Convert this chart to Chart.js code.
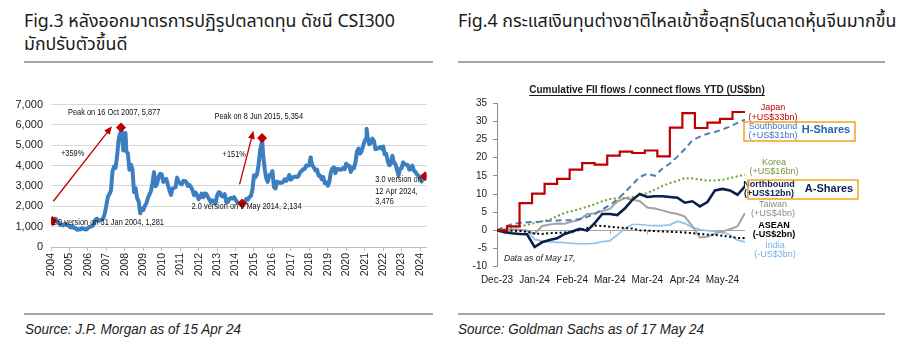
<!DOCTYPE html>
<html><head><meta charset="utf-8">
<script src="https://cdn.jsdelivr.net/npm/chart.js"></script>
<style>
html,body{margin:0;padding:0;background:#fff;}
body{width:900px;height:356px;position:relative;overflow:hidden;font-family:'Liberation Sans',Arial,sans-serif;}
.ttl{position:absolute;font-family:'Noto Sans Thai','Noto Sans','Liberation Sans',sans-serif;font-size:17.8px;font-weight:normal;line-height:23px;color:#1a1a1a;white-space:nowrap;}
.rule{position:absolute;height:2px;background:#a6a6a6;}
.src{position:absolute;top:320px;font-style:italic;font-size:15px;color:#222;white-space:nowrap;transform:scaleX(0.9);transform-origin:0 0;}
canvas{position:absolute;}
#c1{left:0;top:90px;}
#c2{left:450px;top:80px;}
</style></head><body>
<div class="ttl" style="left:24px;top:10px">Fig.3 หลังออกมาตรการปฏิรูปตลาดทุน ดัชนี CSI300<br>มักปรับตัวขึ้นดี</div>
<div class="ttl" style="left:458px;top:10px">Fig.4 กระแสเงินทุนต่างชาติไหลเข้าซื้อสุทธิในตลาดหุ้นจีนมากขึ้น</div>
<div class="rule" style="left:24px;top:61px;width:409px"></div>
<div class="rule" style="left:458px;top:61px;width:427px"></div>
<div class="rule" style="left:24px;top:313px;width:409px"></div>
<div class="rule" style="left:458px;top:313px;width:427px"></div>
<div class="src" style="left:25px">Source: J.P. Morgan as of 15 Apr 24</div>
<div class="src" style="left:458px">Source: Goldman Sachs as of 17 May 24</div>
<canvas id="c1" width="440" height="200"></canvas>
<canvas id="c2" width="450" height="210"></canvas>
<script>
// ---------------- Fig.3 : CSI300 ----------------
const csiStartYear = 2004;
// month-end closes, Jan 2004 .. Mar 2024
const csiMonthEnd = [
 1281,1370,1390,1230,1210,1090,1100,1060,1140,1080,1070,1000,
 960,1040,930,920,850,870,860,920,900,870,860,923,
 990,1010,1030,1160,1350,1390,1290,1300,1340,1420,1650,2041,
 2470,2600,2780,3720,3950,3890,4470,5300,5600,5690,4750,5338,
 4700,4600,3800,4050,3800,2700,2900,2400,2250,1660,1880,1820,
 2010,2140,2400,2580,2750,3140,3680,2980,3120,3450,3600,3575,
 3200,3280,3350,3060,2800,2560,2870,2900,2935,3410,3200,3130,
 3080,3240,3250,3200,3000,3050,2950,2800,2550,2680,2550,2350,
 2460,2630,2450,2630,2610,2460,2330,2200,2290,2250,2140,2520,
 2690,2670,2500,2480,2600,2200,2210,2370,2410,2380,2450,2330,
 2200,2180,2150,2160,2160,2170,2360,2330,2450,2510,2810,3530,
 3430,3580,4050,4750,5100,4470,3820,3370,3200,3530,3570,3730,
 2950,2880,3220,3160,3170,3150,3200,3330,3250,3340,3540,3310,
 3390,3450,3460,3440,3490,3670,3740,3820,3840,4010,4000,4030,
 4280,4020,3900,3760,3800,3510,3520,3330,3440,3150,3170,3010,
 3200,3670,3870,3910,3630,3830,3840,3800,3810,3890,3830,4100,
 4000,4000,3690,3910,3870,4160,4700,4840,4590,4700,4980,5210,
 5350,5340,5050,5120,5330,5220,4810,4830,4870,4910,4830,4940,
 4560,4580,4220,4020,4090,4490,4170,4080,3800,3510,3850,3870,
 4160,4060,4050,4030,3800,3840,4000,3760,3690,3570,3500,3430,
 3220,3510,3540
];
// intra-month extremes (decimal year / value)
const csiExtraDates = [2007.793, 2008.037, 2014.357, 2015.439, 2018.065, 2021.107, 2024.283];
const csiExtraValues = [5877, 5600, 2134, 5354, 4400, 5807, 3476];
// highlighted points
const markerDates = [2004.083, 2007.793, 2014.357, 2015.439, 2024.283];
const markerValues = [1281, 5877, 2134, 5354, 3476];
const yearTicks = [2004,2005,2006,2007,2008,2009,2010,2011,2012,2013,2014,2015,2016,2017,2018,2019,2020,2021,2022,2023,2024];
const csiYTicks = [0,1000,2000,3000,4000,5000,6000,7000];

const csiNotes = [
 ['Peak on 16 Oct 2007, 5,877', 2004.92, 6600],
 ['+359%', 2004.54, 4600],
 ['1.0 version on 31 Jan 2004, 1,281', 2004.05, 1200],
 ['Peak on 8 Jun 2015, 5,354', 2012.86, 6420],
 ['+151%', 2013.3, 4550],
 ['2.0 version on 9 May 2014, 2,134', 2011.62, 2010],
 ['3.0 version on', 2021.57, 3300],
 ['12 Apr 2024,', 2021.57, 2750],
 ['3,476', 2021.57, 2250]
];
const csiArrows = [
 [[2004.13, 2250], [2007.3, 5930]],
 [[2014.22, 3080], [2014.97, 5710]]
];

// ---------------- Fig.4 : flows ----------------
const dayIdx = [0,3,6,9,12,15,18,21,24,27,30,33,36,39,42,45,48,51,54,57,60,63,66,69,72,75,78,81,84,87,90,93,96,99];
const southbound = [0,1.0,1.7,2.0,2.2,2.3,2.4,2.6,2.7,2.8,2.8,3.1,3.7,4.5,5.8,6.9,8.5,10.4,12.6,14.7,15.6,15.0,17.0,18.4,20.3,22.4,24.8,25.8,26.6,27.1,27.8,28.6,29.6,30.5];
const korea = [0,0.3,0.7,1.1,1.5,2.0,2.5,2.9,3.9,4.8,5.3,5.9,6.5,7.2,8.0,8.6,8.9,8.9,9.2,9.6,10.3,11.2,12.2,13.0,13.6,14.4,14.3,14.0,13.7,13.7,13.9,14.4,14.9,15.3];
const northbound = [0,-0.5,-0.8,-1.0,-1.1,-4.6,-3.3,-2.7,-2.2,-1.0,-0.3,0.4,-0.1,2.0,4.5,4.5,4.2,6.0,8.4,10.0,9.2,9.4,9.4,9.2,9.0,7.6,8.0,6.6,7.8,11.0,11.4,11.0,9.8,12.1];
const taiwan = [0,0.2,0.2,0.2,-0.2,-1.0,1.2,1.6,1.9,1.8,2.4,2.9,4.5,4.6,5.3,5.9,7.9,8.9,8.5,8.0,6.3,6.0,5.5,4.9,4.5,3.8,1.1,-2.0,-1.8,-0.9,-0.3,0.3,1.1,4.8];
const asean = [0,-0.1,-0.1,-0.2,-0.4,-0.9,-1.0,-0.8,-0.7,-0.6,-0.4,0.1,0.6,1.3,1.2,1.0,0.8,0.6,0.5,0.0,-0.1,-0.2,-0.3,-0.4,-0.5,-0.6,-0.8,-1.0,-1.2,-1.3,-1.5,-1.8,-2.1,-2.1];
const india = [0,0.1,0.2,0.1,0.0,-2.5,-3.0,-3.2,-3.3,-3.4,-3.6,-3.7,-3.7,-3.6,-3.1,-2.9,-1.3,0.5,1.6,1.6,1.4,1.3,1.3,1.5,2.5,1.9,0.8,0.2,-0.1,-0.3,-0.5,-1.2,-2.7,-3.2];
const japanStepIdx = [0,4,9,14,19,24,29,34,39,44,49,54,59,64,69,74,79,84,89,94,99];
const japan = [0,1.1,7.5,10.1,12.8,14.2,16.7,18.5,18.1,20.6,21.7,21.3,22.0,20.4,28.3,32.3,28.2,29.7,30.7,32.6,32.6];
const flowTickIdx = [0,15,30,45,60,75,90];
const flowTickLabels = ['Dec-23','Jan-24','Feb-24','Mar-24','Mar-24','Apr-24','May-24'];
const flowYTicks = [-10,-5,0,5,10,15,20,25,30,35];

const FONT = "'Liberation Sans', Arial, sans-serif";
Chart.defaults.font.family = FONT;
Chart.defaults.color = '#1a1a1a';

function txt(ctx, s, x, y, size, color, align, sx, style) {
  ctx.save();
  ctx.translate(x, y);
  ctx.scale(sx || 1, 1);
  ctx.font = (style || '') + ' ' + size + 'px ' + FONT;
  ctx.fillStyle = color;
  ctx.textAlign = align || 'left';
  ctx.textBaseline = 'middle';
  ctx.fillText(s, 0, 0);
  ctx.restore();
}

// ---- chart 1
const csiPts = csiMonthEnd.map((v, i) => ({x: csiStartYear + (i + 1) / 12, y: v}));
csiExtraDates.forEach((d, i) => csiPts.push({x: d, y: csiExtraValues[i]}));
csiPts.sort((a, b) => a.x - b.x);
const markerPts = markerDates.map((d, i) => ({x: d, y: markerValues[i]}));

const csiOverlay = {
  id: 'csiOverlay',
  afterDatasetsDraw(chart) {
    const ctx = chart.ctx, xs = chart.scales.x, ys = chart.scales.y;
    ctx.save();
    csiArrows.forEach(([a, b]) => {
      const x0 = xs.getPixelForValue(a[0]), y0 = ys.getPixelForValue(a[1]);
      const x1 = xs.getPixelForValue(b[0]), y1 = ys.getPixelForValue(b[1]);
      const ang = Math.atan2(y1 - y0, x1 - x0);
      ctx.strokeStyle = '#C00000'; ctx.fillStyle = '#C00000'; ctx.lineWidth = 1.3;
      ctx.beginPath(); ctx.moveTo(x0, y0);
      ctx.lineTo(x1 - 6 * Math.cos(ang), y1 - 6 * Math.sin(ang)); ctx.stroke();
      ctx.beginPath(); ctx.moveTo(x1, y1);
      ctx.lineTo(x1 - 8 * Math.cos(ang) + 3.5 * Math.sin(ang), y1 - 8 * Math.sin(ang) - 3.5 * Math.cos(ang));
      ctx.lineTo(x1 - 8 * Math.cos(ang) - 3.5 * Math.sin(ang), y1 - 8 * Math.sin(ang) + 3.5 * Math.cos(ang));
      ctx.closePath(); ctx.fill();
    });
    ctx.restore();
  },
  afterDraw(chart) {
    const ctx = chart.ctx, xs = chart.scales.x, ys = chart.scales.y;
    csiNotes.forEach(([s, x, y]) => txt(ctx, s, xs.getPixelForValue(x), ys.getPixelForValue(y), 9.5, '#111', 'left', 0.78));
  }
};

new Chart(document.getElementById('c1'), {
  type: 'line',
  data: {
    datasets: [
      {data: markerPts, showLine: false, pointStyle: 'rectRot', pointRadius: 5, pointBackgroundColor: '#C00000', pointBorderColor: '#C00000', pointBorderWidth: 0},
      {data: csiPts, borderColor: '#3B7EC2', borderWidth: 4, pointRadius: 0, tension: 0, borderJoinStyle: 'round', borderCapStyle: 'round'}
    ]
  },
  options: {
    responsive: false, animation: false,
    layout: {padding: {left: 0, right: 13.5, top: 11, bottom: 0}},
    plugins: {legend: {display: false}, tooltip: {enabled: false}},
    scales: {
      x: {
        type: 'linear', min: 2004, max: 2024.35,
        afterBuildTicks: s => { s.ticks = yearTicks.map(v => ({value: v})); },
        afterFit: s => { s.height = 43; },
        grid: {drawOnChartArea: false, drawTicks: true, tickLength: 4, color: '#BFBFBF'},
        border: {display: true, color: '#BFBFBF'},
        ticks: {autoSkip: false, minRotation: 90, maxRotation: 90, padding: 2, font: {size: 10.5}, color: '#222', callback: v => String(v)}
      },
      y: {
        min: 0, max: 7000,
        afterBuildTicks: s => { s.ticks = csiYTicks.map(v => ({value: v})); },
        afterFit: s => { s.width = 51; },
        grid: {color: '#D9D9D9', drawTicks: false, lineWidth: 1},
        border: {display: false},
        ticks: {padding: 8, font: {size: 11}, color: '#222', callback: v => v.toString().replace(/\B(?=(\d{3})+(?!\d))/g, ',')}
      }
    }
  },
  plugins: [csiOverlay]
});

// ---- chart 2
const pts = arr => dayIdx.map((d, i) => ({x: d, y: arr[i]}));
const japanPts = japanStepIdx.map((d, i) => ({x: d, y: japan[i]}));

const flowLabels = [
  // [text, dxFromRight, dyFromTop, color, bold]
  ['Japan', 28, 4.7, '#C00000', false],
  ['(+US$33bn)', 28, 14.2, '#C00000', false],
  ['Southbound', 28, 23.7, '#4472C4', false],
  ['(+US$31bn)', 28, 32.7, '#4472C4', false],
  ['Korea', 29, 59.7, '#77933C', false],
  ['(+US$16bn)', 29, 68.7, '#77933C', false],
  ['Northbound', 24, 81.7, '#0F1F4F', true],
  ['(+US$12bn)', 24, 90.7, '#0F1F4F', true],
  ['Taiwan', 28, 101.7, '#8C8C8C', false],
  ['(+US$4bn)', 28, 110.7, '#8C8C8C', false],
  ['ASEAN', 29, 122.7, '#000000', true],
  ['(-US$2bn)', 29, 131.7, '#000000', true],
  ['India', 30, 142.7, '#6FB1E8', false],
  ['(-US$3bn)', 30, 151.7, '#6FB1E8', false]
];

const flowOverlay = {
  id: 'flowOverlay',
  beforeDatasetsDraw(chart) {
    const ctx = chart.ctx, xs = chart.scales.x, ys = chart.scales.y;
    const y0 = ys.getPixelForValue(0);
    ctx.save(); ctx.strokeStyle = '#A6A6A6'; ctx.lineWidth = 1;
    flowTickIdx.forEach(v => {
      const x = Math.round(xs.getPixelForValue(v)) + 0.5;
      ctx.beginPath(); ctx.moveTo(x, y0); ctx.lineTo(x, y0 + 4); ctx.stroke();
    });
    ctx.restore();
  },
  afterDraw(chart) {
    const ctx = chart.ctx, a = chart.chartArea;
    const title = 'Cumulative FII flows / connect flows YTD (US$bn)';
    ctx.save();
    ctx.font = 'bold 10px ' + FONT;
    const w = ctx.measureText(title).width;
    const cx = a.left + 150, ty = 10;
    ctx.fillStyle = '#1a1a1a'; ctx.textAlign = 'center'; ctx.textBaseline = 'middle';
    ctx.fillText(title, cx, ty);
    ctx.strokeStyle = '#1a1a1a'; ctx.lineWidth = 1;
    ctx.beginPath(); ctx.moveTo(cx - w / 2, ty + 5.5); ctx.lineTo(cx + w / 2, ty + 5.5); ctx.stroke();
    ctx.restore();
    flowLabels.forEach(([s, dx, dy, c, b]) => txt(ctx, s, a.right + dx, a.top + dy, 9, c, 'center', 1, b ? 'bold' : ''));
    ctx.save(); ctx.strokeStyle = '#F5A31A'; ctx.lineWidth = 1.5;
    ctx.strokeRect(a.right - 1, a.top + 18.7, 111, 19);
    ctx.strokeRect(a.right + 3, a.top + 76.7, 110, 19);
    ctx.restore();
    txt(ctx, 'H-Shares', a.right + 81, a.top + 26.7, 11, '#2563B8', 'center', 1, 'bold');
    txt(ctx, 'A-Shares', a.right + 84, a.top + 85.7, 11, '#0F1F4F', 'center', 1, 'bold');
    txt(ctx, 'Data as of May 17,', a.left + 7, a.bottom - 7.6, 8.5, '#222', 'left', 1, 'italic');
  }
};

new Chart(document.getElementById('c2'), {
  type: 'line',
  data: {
    datasets: [
      {label: 'Japan', data: japanPts, stepped: 'before', borderColor: '#C00000', borderWidth: 2.2, pointRadius: 0},
      {label: 'Northbound', data: pts(northbound), borderColor: '#0B1F4B', borderWidth: 2.6, pointRadius: 0, tension: 0},
      {label: 'Southbound', data: pts(southbound), borderColor: '#4A7EBB', borderWidth: 2, borderDash: [6, 4], pointRadius: 0, tension: 0},
      {label: 'Korea', data: pts(korea), borderColor: '#6FA32E', borderWidth: 2, borderDash: [2, 2.5], pointRadius: 0, tension: 0},
      {label: 'ASEAN', data: pts(asean), borderColor: '#000000', borderWidth: 2, borderDash: [2, 2.5], pointRadius: 0, tension: 0},
      {label: 'Taiwan', data: pts(taiwan), borderColor: '#A3A3A3', borderWidth: 2, pointRadius: 0, tension: 0},
      {label: 'India', data: pts(india), borderColor: '#8CC4F0', borderWidth: 1.7, pointRadius: 0, tension: 0}
    ]
  },
  options: {
    responsive: false, animation: false,
    layout: {padding: {left: 0, right: 155, top: 23.3, bottom: 0}},
    plugins: {legend: {display: false}, tooltip: {enabled: false}},
    scales: {
      x: {
        type: 'linear', min: 0, max: 99,
        afterBuildTicks: s => { s.ticks = flowTickIdx.map(v => ({value: v})); },
        afterFit: s => { s.height = 23.4; },
        grid: {display: false},
        border: {display: false},
        ticks: {autoSkip: false, maxRotation: 0, padding: 0, font: {size: 10}, color: '#1a1a1a',
          callback: v => flowTickLabels[flowTickIdx.indexOf(v)]}
      },
      y: {
        min: -10, max: 35,
        afterBuildTicks: s => { s.ticks = flowYTicks.map(v => ({value: v})); },
        afterFit: s => { s.width = 47; },
        grid: {drawOnChartArea: true, drawTicks: true, tickLength: 4, tickColor: '#8C8C8C',
          color: c => (c.tick && c.tick.value === 0) ? '#A6A6A6' : 'rgba(0,0,0,0)'},
        border: {display: true, color: '#8C8C8C'},
        ticks: {padding: 6, font: {size: 10}, color: '#1a1a1a'}
      }
    }
  },
  plugins: [flowOverlay]
});
</script>
</body></html>
